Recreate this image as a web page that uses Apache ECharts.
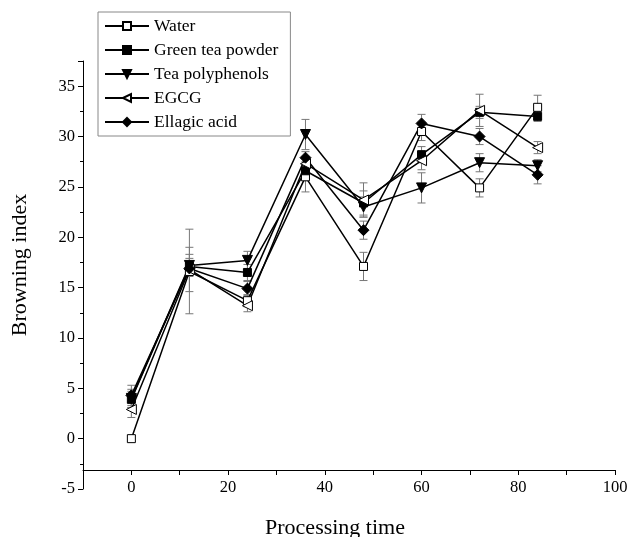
<!DOCTYPE html>
<html>
<head>
<meta charset="utf-8">
<script src="https://cdn.jsdelivr.net/npm/echarts@6/dist/echarts.min.js"></script>
<style>
  html, body { margin: 0; padding: 0; background: #fff; }
  #chart { width: 632px; height: 537px; }
</style>
</head>
<body>
<div id="chart"></div>
<script>
// processing time (x)
const times = [0, 12, 24, 36, 48, 60, 72, 84];

// browning index per treatment
const water = [0.0, 16.6, 13.7, 26.0, 17.1, 30.5, 24.9, 32.9];
const greenTeaPowder = [3.9, 17.1, 16.5, 26.6, 23.4, 28.2, 32.4, 32.0];
const teaPolyphenols = [4.0, 17.2, 17.7, 30.2, 23.0, 24.9, 27.4, 27.1];
const egcg = [2.9, 16.8, 13.2, 27.3, 23.7, 27.6, 32.6, 28.9];
const ellagicAcid = [4.3, 16.9, 14.9, 27.9, 20.7, 31.3, 30.0, 26.2];

// standard deviations (error bars)
const waterErr = [0.3, 4.2, 0.6, 1.5, 1.4, 0.9, 0.9, 1.2];
const greenTeaPowderErr = [0.8, 0.8, 0.8, 0.5, 1.2, 0.8, 0.6, 0.5];
const teaPolyphenolsErr = [0.9, 1.1, 0.9, 1.5, 1.0, 1.5, 0.9, 0.6];
const egcgErr = [0.8, 2.2, 0.6, 0.6, 1.7, 0.9, 1.6, 0.6];
const ellagicAcidErr = [1.0, 0.6, 0.7, 0.6, 0.9, 0.9, 0.8, 0.9];

const FONT = 'Liberation Serif';

const defs = [
  { name: 'Water', values: water, err: waterErr, symbol: 'rect', rotate: 0, fill: '#fff', size: 8 },
  { name: 'Green tea powder', values: greenTeaPowder, err: greenTeaPowderErr, symbol: 'rect', rotate: 0, fill: '#000', size: 8 },
  { name: 'Tea polyphenols', values: teaPolyphenols, err: teaPolyphenolsErr, symbol: 'triangle', rotate: 180, fill: '#000', size: 10 },
  { name: 'EGCG', values: egcg, err: egcgErr, symbol: 'triangle', rotate: 90, fill: '#fff', size: 10 },
  { name: 'Ellagic acid', values: ellagicAcid, err: ellagicAcidErr, symbol: 'diamond', rotate: 0, fill: '#000', size: 11 }
];

function errorBars(def) {
  return {
    type: 'custom',
    name: def.name + ' err',
    z: 1,
    silent: true,
    data: times.map((t, i) => [t, def.values[i] - def.err[i], def.values[i] + def.err[i]]),
    renderItem: function (params, api) {
      const lo = api.coord([api.value(0), api.value(1)]);
      const hi = api.coord([api.value(0), api.value(2)]);
      const w = 4;
      const st = { stroke: '#777', lineWidth: 1 };
      return {
        type: 'group',
        children: [
          { type: 'line', shape: { x1: lo[0], y1: lo[1], x2: hi[0], y2: hi[1] }, style: st },
          { type: 'line', shape: { x1: lo[0] - w, y1: lo[1], x2: lo[0] + w, y2: lo[1] }, style: st },
          { type: 'line', shape: { x1: hi[0] - w, y1: hi[1], x2: hi[0] + w, y2: hi[1] }, style: st }
        ]
      };
    }
  };
}

const lineSeries = defs.map(d => ({
  type: 'line',
  name: d.name,
  z: 3,
  data: times.map((t, i) => [t, d.values[i]]),
  symbol: d.symbol,
  symbolSize: d.size,
  symbolRotate: d.rotate,
  showAllSymbol: true,
  lineStyle: { color: '#000', width: 1.5 },
  itemStyle: { color: d.fill, borderColor: '#000', borderWidth: 1, opacity: 1 },
  emphasis: { disabled: true }
}));

const chart = echarts.init(document.getElementById('chart'));
chart.setOption({
  backgroundColor: '#fff',
  animation: false,
  grid: { left: 83, right: 17, top: 61, bottom: 48, outerBoundsMode: 'none' },
  legend: {
    orient: 'vertical',
    left: 98,
    top: 12,
    data: defs.map(d => d.name),
    itemWidth: 44,
    itemHeight: 10,
    itemGap: 6,
    padding: [5, 12, 5, 6],
    borderColor: '#888',
    borderWidth: 1,
    selectedMode: false,
    textStyle: { fontFamily: FONT, fontSize: 17.5, color: '#000' }
  },
  xAxis: {
    type: 'value',
    min: -10,
    max: 100,
    interval: 10,
    offset: -19,
    name: 'Processing time',
    nameLocation: 'middle',
    nameGap: 47,
    nameTextStyle: { fontFamily: FONT, fontSize: 22, color: '#000', padding: [0, 28, 0, 0] },
    axisLine: { onZero: false, lineStyle: { color: '#000', width: 1 } },
    axisTick: { length: 5, lineStyle: { color: '#000' } },
    axisLabel: {
      fontFamily: FONT, fontSize: 16.5, color: '#000', margin: 9,
      formatter: v => (v >= 0 && v % 20 === 0) ? String(v) : ''
    },
    splitLine: { show: false }
  },
  yAxis: {
    type: 'value',
    min: -5,
    max: 37.5,
    interval: 5,
    name: 'Browning index',
    nameLocation: 'middle',
    nameGap: 52,
    nameTextStyle: { fontFamily: FONT, fontSize: 22, color: '#000', padding: [0, 0, 0, 20] },
    axisLine: { show: true, onZero: false, lineStyle: { color: '#000', width: 1 } },
    axisTick: { length: 5, lineStyle: { color: '#000' } },
    minorTick: { show: true, splitNumber: 2, length: 3, lineStyle: { color: '#000' } },
    axisLabel: {
      fontFamily: FONT, fontSize: 16.5, color: '#000', margin: 8,
      formatter: v => (v % 5 === 0) ? String(v) : ''
    },
    splitLine: { show: false }
  },
  series: defs.map(errorBars).concat(lineSeries)
});
</script>
</body>
</html>
